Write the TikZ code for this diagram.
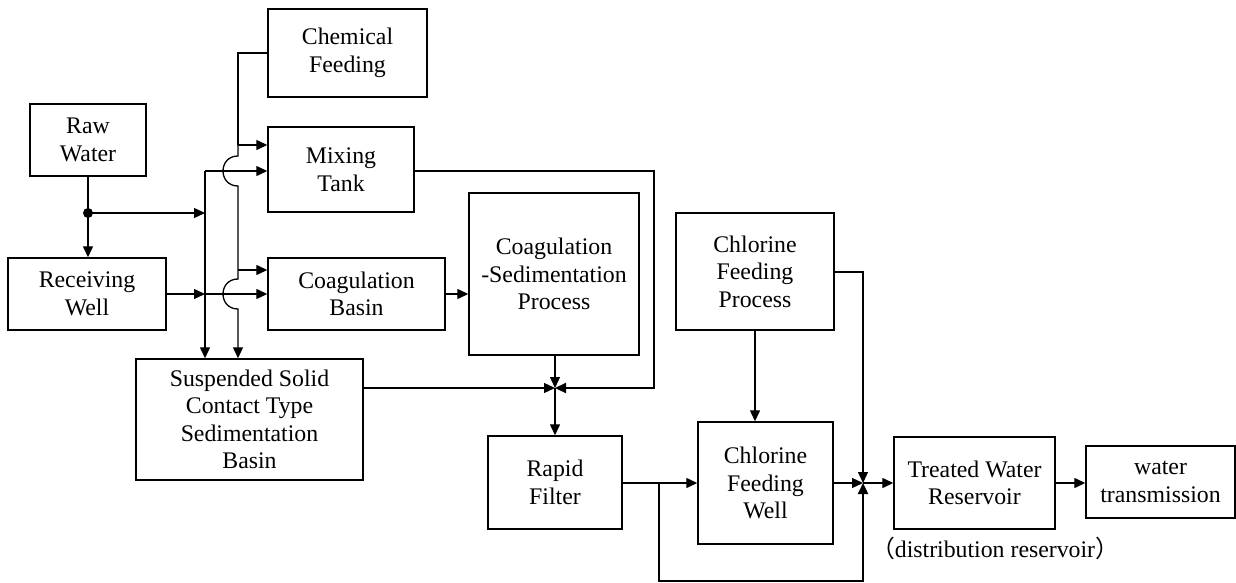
\documentclass[tikz,border=0pt]{standalone}
\usepackage{fontspec}
\setmainfont{Liberation Serif}
\newfontfamily\cjk{Noto Sans CJK SC}
\usetikzlibrary{arrows.meta}
\begin{document}
\begin{tikzpicture}[x=1pt,y=-1pt,
  box/.style={draw, line width=1.4pt, inner sep=0pt, align=center, font=\fontsize{23.8}{27.5}\selectfont},
  conn/.style={line width=1.3pt, -{Triangle[length=11pt,width=10pt]}},
  thickconn/.style={line width=2.3pt, -{Triangle[length=11pt,width=10pt]}},
  heavy/.style={line width=2.3pt}
]
\useasboundingbox (0,0) rectangle (1236,583);

% boxes
\node[box, minimum width=116pt, minimum height=72pt] (raw) at (88,140) {Raw\\Water};
\node[box, minimum width=159pt, minimum height=88pt] (chem) at (347.5,53) {Chemical\\Feeding};
\node[box, minimum width=158pt, minimum height=72pt] (recv) at (87,294) {Receiving\\Well};
\node[box, minimum width=146pt, minimum height=85pt] (mix) at (341,169.5) {Mixing\\Tank};
\node[box, minimum width=177pt, minimum height=72pt] (coagb) at (356.5,294) {Coagulation\\Basin};
\node[box, minimum width=170pt, minimum height=162pt] (coagsed) at (554,274) {Coagulation\\-Sedimentation\\Process};
\node[box, minimum width=227pt, minimum height=121pt] (susp) at (249.5,419.5) {Suspended Solid\\Contact Type\\Sedimentation\\Basin};
\node[box, minimum width=134pt, minimum height=93pt] (rapid) at (555,482.5) {Rapid\\Filter};
\node[box, minimum width=158pt, minimum height=117pt] (clfp) at (755,271.5) {Chlorine\\Feeding\\Process};
\node[box, minimum width=135pt, minimum height=122pt] (clfw) at (765.5,483) {Chlorine\\Feeding\\Well};
\node[box, minimum width=161pt, minimum height=92pt] (twr) at (974.5,483) {Treated Water\\Reservoir};
\node[box, minimum width=149pt, minimum height=72pt] (wt) at (1160.5,482) {water\\transmission};
\node[font=\fontsize{23.8}{27.5}\selectfont, inner sep=0pt, anchor=base] (distlbl) at (995,557) {{\cjk （}distribution reservoir{\cjk ）}};

% coordinates
\coordinate (dot) at (88,213);
\coordinate (v1top) at (205,171);
\coordinate (v1a) at (205,213);
\coordinate (v1b) at (205,294);
\coordinate (c1) at (238,53);
\coordinate (c2) at (238,145);
\coordinate (a1s) at (238,156);
\coordinate (a1e) at (238,186);
\coordinate (c3) at (238,270);
\coordinate (a2s) at (238,279);
\coordinate (a2e) at (238,309);
\coordinate (m1) at (654,171);
\coordinate (m2) at (654,388);
\coordinate (j1) at (555,388);
\coordinate (r1) at (659,483);
\coordinate (b1) at (659,581);
\coordinate (b2) at (863,581);
\coordinate (j2) at (863,483);
\coordinate (p1) at (863,272);

% raw water branch
\draw[conn] (raw.south) -- (recv.north -| raw.south);
\fill (dot) circle[radius=5pt];
\draw[conn] (dot) -- (v1a);
\draw[conn] (v1top) -- (v1top -| mix.west);
\draw[conn] (v1top) -- (v1top |- susp.north);
\draw[conn] (recv.east |- v1b) -- (v1b);
\draw[conn] (v1b) -- (v1b -| coagb.west);

% chemical feeding
\draw[heavy] (chem.west |- c1) -- (c1) -- (c2);
\draw[conn] (c2) -- (c2 -| mix.west);
\draw[conn] (c2) -- (a1s) .. controls (218,156) and (218,186) .. (a1e) -- (c3)
   -- (a2s) .. controls (218,279) and (218,309) .. (a2e) -- (c3 |- susp.north);
\draw[conn] (c3) -- (c3 -| coagb.west);

% to coagulation-sedimentation
\draw[conn] (coagb.east) -- (coagb.east -| coagsed.west);

% mixing tank line to junction
\draw[thickconn] (mix.east |- m1) -- (m1) -- (m2) -- (j1);
\draw[conn] (j1 |- coagsed.south) -- (j1);
\draw[conn] (susp.east |- j1) -- (j1);
\draw[conn] (j1) -- (j1 |- rapid.north);

% rapid filter to chlorine feeding well + bypass
\draw[conn] (rapid.east |- r1) -- (clfw.west |- r1);
\draw[thickconn] (r1) -- (b1) -- (b2) -- (j2);

% chlorine feeding process
\draw[conn] (clfp.south) -- (clfp.south |- clfw.north);
\draw[conn] (clfp.east |- p1) -- (p1) -- (j2);

% to reservoirs
\draw[conn] (clfw.east |- j2) -- (j2);
\draw[conn] (j2) -- (twr.west |- j2);
\draw[conn] (twr.east |- j2) -- (wt.west |- j2);
\end{tikzpicture}
\end{document}
